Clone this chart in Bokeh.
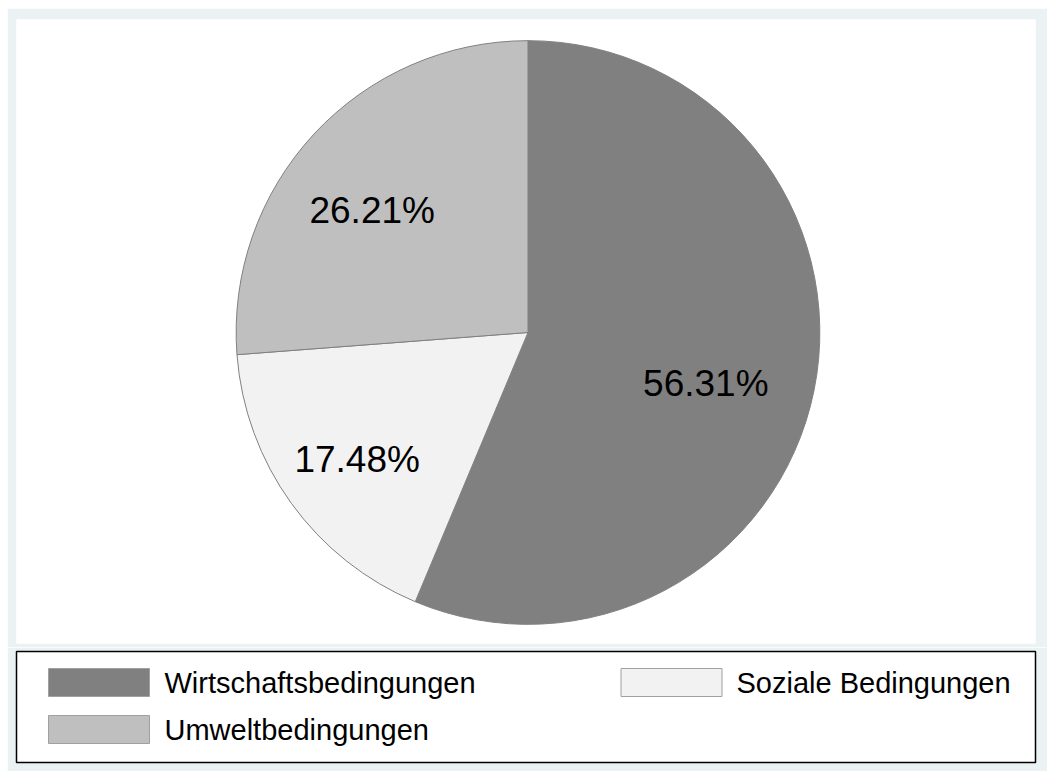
import math
from bokeh.plotting import figure
from bokeh.layouts import column
from bokeh.models import ColumnDataSource, Range1d
from bokeh.core.properties import value
from bokeh.embed import file_html
from bokeh.resources import INLINE

# ---- data ----
categories = ["Wirtschaftsbedingungen", "Soziale Bedingungen", "Umweltbedingungen"]
shares = [56.31, 17.48, 26.21]
colors = ["#808080", "#F2F2F2", "#BFBFBF"]
pct_labels = ["56.31%", "17.48%", "26.21%"]

FONT = value("Liberation Sans")
BG = "#EAF2F3"

# ---- pie geometry ----
cx, cy, R = 517, 311, 295
total = sum(shares)
starts, ends, lx, ly = [], [], [], []
a = math.pi / 2
for s in shares:
    span = 2 * math.pi * s / total
    starts.append(a - span)
    ends.append(a)
    mid = a - span / 2
    lx.append(cx + 0.667 * R * math.cos(mid))
    ly.append(cy + 0.667 * R * math.sin(mid))
    a -= span

pie_src = ColumnDataSource(dict(cat=categories, start=starts, end=ends, color=colors,
                                lab=pct_labels, lx=lx, ly=ly))

p = figure(width=1040, height=639, x_range=Range1d(0, 1030), y_range=Range1d(0, 624),
           x_axis_type=None, y_axis_type=None, toolbar_location=None, output_backend="svg",
           min_border_left=9, min_border_right=1, min_border_top=11, min_border_bottom=4)
p.border_fill_color = BG
p.background_fill_color = "white"
p.outline_line_color = None
p.xgrid.visible = False
p.ygrid.visible = False

p.wedge(x=cx, y=cy, radius=R, start_angle="start", end_angle="end", direction="anticlock",
        fill_color="color", line_color="#808080", line_width=1, source=pie_src)
p.text(x="lx", y="ly", text="lab", source=pie_src, text_font=FONT, text_font_size="37px",
       text_align="center", text_baseline="middle", text_color="black",
       x_offset=-13, y_offset=12)

# ---- legend panel ----
col_swatch_x = [82.5, 655]
col_text_x = [148, 720]
row_y = [80, 33]
sx, sy, tx = [], [], []
for i in range(len(categories)):
    c, r = i % 2, i // 2
    sx.append(col_swatch_x[c])
    tx.append(col_text_x[c])
    sy.append(row_y[r])
leg_src = ColumnDataSource(dict(cat=categories, color=colors, sx=sx, sy=sy, tx=tx))

lg = figure(width=1040, height=124, x_range=Range1d(0, 1019), y_range=Range1d(0, 111),
            x_axis_type=None, y_axis_type=None, toolbar_location=None, output_backend="svg",
            min_border_left=9, min_border_right=12, min_border_top=4, min_border_bottom=9)
lg.border_fill_color = BG
lg.background_fill_color = "white"
lg.outline_line_color = "black"
lg.outline_line_width = 1.5
lg.xgrid.visible = False
lg.ygrid.visible = False

lg.rect(x="sx", y="sy", width=101, height=28, fill_color="color", line_color="#A0A0A0",
        line_width=1, source=leg_src)
lg.text(x="tx", y="sy", text="cat", source=leg_src, text_font=FONT, text_font_size="29px",
        text_align="left", text_baseline="middle", text_color="black")

layout = column(p, lg, spacing=0, margin=(8, 0, 0, 7))
open("out.html", "w").write(file_html(layout, INLINE))
